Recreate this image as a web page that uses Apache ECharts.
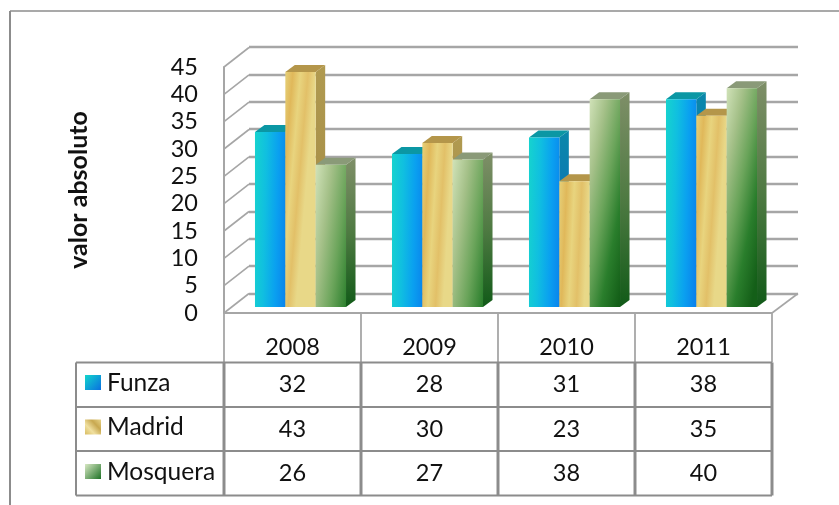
<!DOCTYPE html>
<html><head><meta charset="utf-8">
<style>html,body{margin:0;padding:0;background:#fff}#c{width:839px;height:505px}</style>
<script src="https://cdn.jsdelivr.net/npm/echarts@6/dist/echarts.min.js"></script>
</head><body><div id="c"></div>
<script>
const categories = ['2008','2009','2010','2011'];
const seriesNames = ['Funza','Madrid','Mosquera'];
const funza = [32,28,31,38];
const madrid = [43,30,23,35];
const mosquera = [26,27,38,40];
const ticks = [0,5,10,15,20,25,30,35,40,45];
const allValues = [funza,madrid,mosquera];

const FONT = 'Lato, "Open Sans", sans-serif';
const LINE = '#8c8c8c', WALL = '#a6a6a6';
const G = (x0,y0,x1,y1,stops)=>new echarts.graphic.LinearGradient(x0,y0,x1,y1,stops.map((c,i)=>({offset:i/(stops.length-1),color:c})));
const skins = [
 {front:()=>G(0,0,1.18,0.005,['#16d3ce','#10bfe0','#0aa0f0','#0a80ec']), side:()=>G(0,0,0,1,['#0a88aa','#0a72b8','#0862b0']), top:'#0b97a4', key:()=>G(0,0,1,1,['#12d6cc','#0a6fe0'])},
 {front:()=>G(0,0,1,0.011,['#e6d078','#e0b85a','#e8d47e','#e2c068','#e8d888']), side:()=>G(0,0,0,1,['#b09a50','#a89048','#a08a40']), top:'#b4964a', key:()=>G(0,1,1,0,['#d8bc60','#f0e0a0','#c8a850','#e8d488'])},
 {front:()=>G(0,0,2.15,0.06,['#d0e2b8','#a4c088','#6aa45a','#2a7e2c','#145f18']), side:()=>G(0,0,0,1,['#7f8f68','#4e7a42','#115a18']), top:'#8a9a78', key:()=>G(0,0,1,1,['#d8e8c4','#1f7226'])}
];
const rowY = [362.5,407,451,495.5];           // table rules

function barSeries(idx){
  return {
    type:'custom', name:seriesNames[idx], xAxisIndex:0, yAxisIndex:0, z:5,
    encode:{x:0,y:1},
    data:allValues[idx].map((v,i)=>[i,v]),
    renderItem(params,api){
      const band = api.size([1,0])[0];
      const w = band*0.2215, dx=9.5, dy=7;
      const top = api.coord([api.value(0),api.value(1)]);
      const base = api.coord([api.value(0),0]);
      const x = top[0]+8+(idx-1.5)*w, y0 = base[1]-6, y1 = top[1]-6;
      const s = skins[idx];
      return {type:'group',children:[
        {type:'polygon',shape:{points:[[x+w,y1],[x+w+dx,y1-dy],[x+w+dx,y0-dy],[x+w,y0]]},style:{fill:s.side()}},
        {type:'polygon',shape:{points:[[x,y1],[x+dx,y1-dy],[x+w+dx,y1-dy],[x+w,y1]]},style:{fill:s.top}},
        {type:'rect',shape:{x:x,y:y1,width:w,height:y0-y1},style:{fill:s.front()}}
      ]};
    }
  };
}

const wallSeries = {
  type:'custom', silent:true, xAxisIndex:0, yAxisIndex:0, z:2, encode:{x:0,y:1},
  data:ticks.map(t=>[0,t]),
  renderItem(params,api){
    const p = api.coord([0,api.value(1)]);
    const x = params.coordSys.x;
    return {type:'line',shape:{x1:x,y1:p[1],x2:x+25,y2:p[1]-19.5},style:{stroke:WALL,lineWidth:1.6}};
  }
};
const floorSeries = {
  type:'custom', silent:true, xAxisIndex:0, yAxisIndex:0, z:2, encode:{x:0,y:1},
  data:[[0,0]],
  renderItem(params,api){
    const y = api.coord([0,0])[1], r = params.coordSys.x+params.coordSys.width;
    return {type:'line',shape:{x1:r,y1:y,x2:r+26,y2:y-19.5},style:{stroke:WALL,lineWidth:1.6}};
  }
};

const tableSeries = {
  type:'custom', silent:true, xAxisIndex:0, yAxisIndex:0, z:6, encode:{x:0,y:1},
  data:categories.map((c,i)=>[i,0]),
  renderItem(params,api){
    const i = api.value(0), p = api.coord([i,0]);
    const txt = (t,y)=>({type:'text',style:{text:t,x:p[0],y:y,fill:'#111',font:'23.5px '+FONT,align:'center',verticalAlign:'middle'}});
    const kids = [txt(categories[i],347)];
    const centres = [384,429,473];
    allValues.forEach((vals,r)=>kids.push(txt(String(vals[i]),centres[r])));
    return {type:'group',children:kids};
  }
};
const legendSeries = seriesNames.map((n,r)=>({
  type:'custom', silent:true, xAxisIndex:0, yAxisIndex:0, z:6, encode:{x:0,y:1}, data:[[0,0]],
  renderItem(){
    const cy=[382.5,427,471.5][r];
    return {type:'group',children:[
      {type:'rect',shape:{x:85,y:cy-7.5,width:16,height:15},style:{fill:skins[r].key()}},
      {type:'text',style:{text:n,x:107,y:cy+0.5,fill:'#111',font:'24.5px '+FONT,align:'left',verticalAlign:'middle'}}
    ]};
  }
}));
const ruleSeries = {
  type:'custom', silent:true, xAxisIndex:0, yAxisIndex:0, z:4, encode:{x:0,y:1}, data:[[0,0]],
  renderItem(params,api){
    const cs=params.coordSys, y0=api.coord([0,0])[1], band=cs.width/categories.length, kids=[];
    const ln=(x1,y1,x2,y2,w,c)=>({type:'line',shape:{x1,y1,x2,y2},style:{stroke:c||LINE,lineWidth:w||2}});
    kids.push(ln(cs.x,y0,cs.x+cs.width,y0,2,'#a6a6a6'));
    for(let k=0;k<=categories.length;k++){
      const x=cs.x+k*band;
      kids.push(ln(x,y0,x,rowY[0],1.8,'#a6a6a6'));
      kids.push(ln(x,rowY[0],x,rowY[3],3));
    }
    rowY.forEach(y=>kids.push(ln(76,y,cs.x+cs.width,y)));
    kids.push(ln(76,rowY[0],76,rowY[3]));
    return {type:'group',children:kids};
  }
};

const chart = echarts.init(document.getElementById('c'),null,{renderer:'canvas'});
chart.setOption({
  animation:false,
  backgroundColor:'#fff',
  grid:[
    {left:224,top:67,width:548,height:246},
    {left:249,top:47,width:549,height:246.5}
  ],
  xAxis:[
    {type:'category',gridIndex:0,data:categories,axisLine:{show:false},axisTick:{show:false},axisLabel:{show:false}},
    {type:'category',gridIndex:1,data:categories,axisLine:{show:false},axisTick:{show:false},axisLabel:{show:false}}
  ],
  yAxis:[
    {type:'value',gridIndex:0,min:0,max:45,interval:5,
     name:'valor absoluto',nameLocation:'middle',nameGap:133,nameRotate:90,
     nameTextStyle:{fontFamily:FONT,fontSize:25,fontWeight:'bold',color:'#111'},
     axisLine:{show:true,lineStyle:{color:WALL,width:2}},axisTick:{show:false},splitLine:{show:false},
     axisLabel:{fontFamily:FONT,fontSize:23.5,color:'#111',margin:26,padding:[4,0,0,0]}},
    {type:'value',gridIndex:1,min:0,max:45,interval:5,axisLine:{show:false},axisTick:{show:false},axisLabel:{show:false},
     splitLine:{show:true,lineStyle:{color:WALL,width:2.4}}}
  ],
  graphic:[
    {type:'line',shape:{x1:10,y1:11,x2:839,y2:11},style:{stroke:LINE,lineWidth:1.6}},
    {type:'line',shape:{x1:10,y1:11,x2:10,y2:505},style:{stroke:LINE,lineWidth:2}}
  ],
  series:[wallSeries,floorSeries,ruleSeries,barSeries(0),barSeries(1),barSeries(2),tableSeries,...legendSeries]
});
</script></body></html>
